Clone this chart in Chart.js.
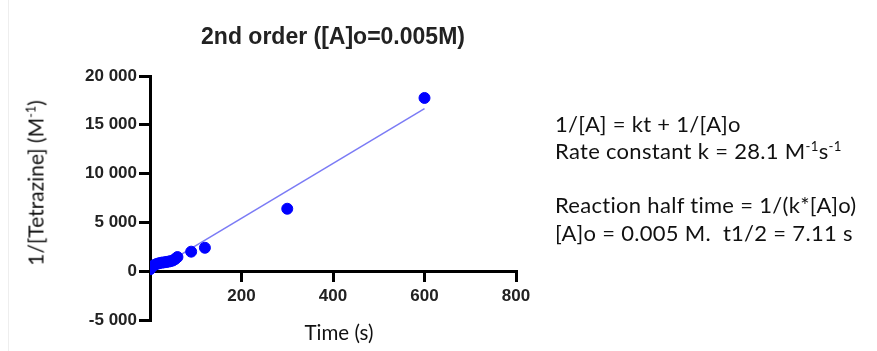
<!DOCTYPE html>
<html>
<head>
<meta charset="utf-8">
<script src="https://cdn.jsdelivr.net/npm/chart.js@4.4.1/dist/chart.umd.min.js"></script>
<style>
  body { margin: 0; background: #fff; }
  #wrap { position: relative; width: 877px; height: 351px; overflow: hidden; background: #fff; }
  #chart { position: absolute; left: 0; top: 0; }
  .txt { position: absolute; white-space: nowrap; color: #111; }
  .mid { transform: translate(-50%, -50%); }
  #title { left: 333px; top: 36px; font: bold 23px "Liberation Sans", Arial, sans-serif; color: #222; }
  #xTitle { left: 339px; top: 332px; font: 20.5px Lato, sans-serif; }
  #yTitle { left: 35px; top: 183px; font: 21px Lato, sans-serif; transform: translate(-50%, -50%) rotate(-90deg); }
  .note { left: 555px; font: 22px Lato, sans-serif; letter-spacing: 0.3px; transform: translateY(-50%); }
  sup { font-size: 0.6em; vertical-align: 0; position: relative; top: -0.6em; }
  #edge { position: absolute; left: 8px; top: 0; width: 1px; height: 351px; background: #eee; }
</style>
</head>
<body>
<div id="wrap">
  <div id="edge"></div>
  <canvas id="chart" width="877" height="351"></canvas>
  <div id="title" class="txt mid">2nd order ([A]o=0.005M)</div>
  <div id="xTitle" class="txt mid">Time (s)</div>
  <div id="yTitle" class="txt">1/[Tetrazine] (M<sup>-1</sup>)</div>
  <div class="txt note" style="top:123px">1/[A] = kt + 1/[A]o</div>
  <div class="txt note" style="top:150px">Rate constant k = 28.1 M<sup>-1</sup>s<sup>-1</sup></div>
  <div class="txt note" style="top:204px">Reaction half time = 1/(k*[A]o)</div>
  <div class="txt note" style="top:232px">[A]o = 0.005 M.&nbsp; t1/2 = 7.11 s</div>
</div>
<script>
const timeS = [0, 2, 5, 10, 15, 20, 25, 30, 35, 40, 45, 50, 55, 60, 90, 120, 300, 600];
const invConc = [200, 350, 500, 650, 750, 820, 870, 900, 940, 980, 1030, 1100, 1250, 1450, 2000, 2400, 6400, 17750];

// linear fit, drawn between its two ends
const fitTime = [0, 600];
const fitValue = [-200, 16660];

// axis ticks
const xTicks = [0, 200, 400, 600, 800];
const xTickLabels = ['', '200', '400', '600', '800'];
const yTicks = [-5000, 0, 5000, 10000, 15000, 20000];
const yTickLabels = ['-5 000', '0', '5 000', '10 000', '15 000', '20 000'];

const tickFont = { family: '"Liberation Sans", Arial, sans-serif', size: 17, weight: 'bold' };

const points = timeS.map((t, i) => ({ x: t, y: invConc[i] }));
const fitLine = fitTime.map((t, i) => ({ x: t, y: fitValue[i] }));

new Chart(document.getElementById('chart'), {
    type: 'scatter',
    data: {
        datasets: [
            {
                label: 'data',
                data: points,
                backgroundColor: '#0000ff',
                borderColor: '#0000ff',
                pointRadius: 5.5,
                pointHoverRadius: 5.5,
                order: 0
            },
            {
                label: 'fit',
                type: 'line',
                data: fitLine,
                borderColor: '#7b7bf5',
                borderWidth: 1.5,
                pointRadius: 0,
                fill: false,
                order: 1
            }
        ]
    },
    options: {
        responsive: false,
        animation: false,
        layout: { padding: { left: 0, right: 361, top: 76, bottom: 31 } },
        plugins: {
            legend: { display: false },
            title: { display: false },
            tooltip: { enabled: false }
        },
        scales: {
            x: {
                type: 'linear',
                position: { y: 0 },
                min: 0,
                max: 800,
                afterBuildTicks: (scale) => { scale.ticks = xTicks.map(v => ({ value: v })); },
                ticks: {
                    font: tickFont,
                    color: '#222',
                    padding: 6,
                    maxRotation: 0,
                    callback: (v) => xTickLabels[xTicks.indexOf(v)]
                },
                grid: { drawOnChartArea: false, drawTicks: true, tickLength: 9, lineWidth: 3, color: '#000' },
                border: { display: true, color: '#000', width: 3 }
            },
            y: {
                type: 'linear',
                position: 'left',
                min: -5000,
                max: 20000,
                afterBuildTicks: (scale) => { scale.ticks = yTicks.map(v => ({ value: v })); },
                afterFit: (scale) => { scale.width = 150; },
                ticks: {
                    font: tickFont,
                    color: '#222',
                    padding: 2,
                    callback: (v) => yTickLabels[yTicks.indexOf(v)]
                },
                grid: { drawOnChartArea: false, drawTicks: true, tickLength: 11, lineWidth: 3, color: '#000' },
                border: { display: true, color: '#000', width: 3 }
            }
        }
    }
});
</script>
</body>
</html>
